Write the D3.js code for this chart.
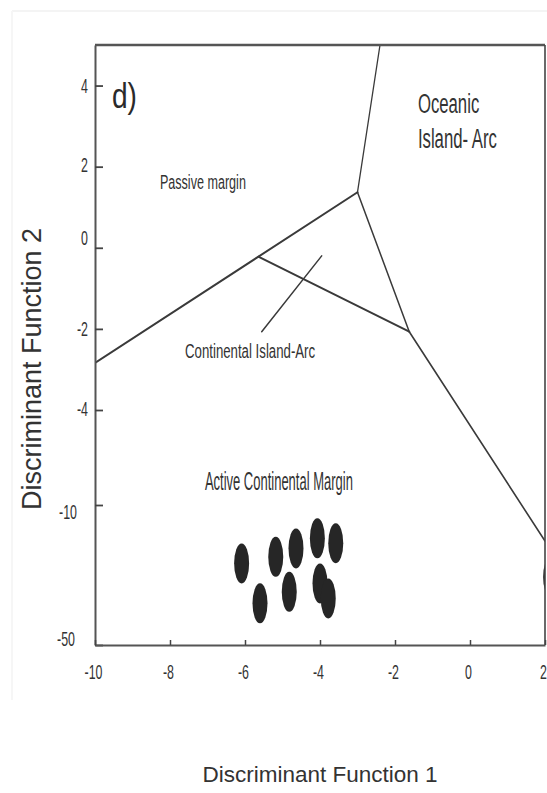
<!DOCTYPE html>
<html>
<head>
<meta charset="utf-8">
<script src="https://cdn.jsdelivr.net/npm/d3@7"></script>
<style>
  html, body { margin: 0; padding: 0; background: #fff; }
  svg { display: block; font-family: "Liberation Sans", Arial, sans-serif; }
</style>
</head>
<body>
<svg id="chart" width="547" height="793"></svg>
<script>
// ---------------- data ----------------
const xTicks = [-10, -8, -6, -4, -2, 0, 2];
const yTicks = [4, 2, 0, -2, -4, -10, -50];
const xDomain = [-10, 2];
const yBreaks = [-50, -10, -4, 5];          // piecewise (broken) y axis

// sample scores: Discriminant Function 1 / 2
const sampleDF1 = [-6.09, -5.60, -5.18, -4.82, -4.64, -4.07, -3.58, -4.00, -3.78, 2.15];
const sampleDF2 = [-26.7, -38.1, -24.8, -34.8, -22.4, -19.5, -20.9, -32.4, -36.7, -30.6];

// field boundaries (DF1, DF2 pairs)
const boundaryNames = ["passiveLower", "oceanicLeft", "upperRight", "lowerRight", "continentalArc", "pointer"];
const boundaryDF1 = [[-10, -3.0], [-3.0, -2.4], [-3.0, -1.62], [-1.62, 2], [-5.645, -1.62], [-3.955, -5.555]];
const boundaryDF2 = [[-2.84, 1.37], [1.37, 5], [1.37, -2.07], [-2.07, -20.3], [-0.22, -2.07], [-0.20, -2.07]];

// field labels
const fieldLabels = ["Passive margin", "Oceanic", "Island- Arc", "Continental Island-Arc", "Active Continental Margin"];
const fieldDF1 = [-8.27, -1.39, -1.39, -7.6, -7.07];
const fieldDF2 = [1.45, 3.32, 2.46, -2.72, -9.05];

const panelLabel = "d)";
const xTitle = "Discriminant Function 1";
const yTitle = "Discriminant Function 2";

// ---------------- layout ----------------
const L = 95, R = 545, T = 45, B = 645;
const svg = d3.select("#chart");

const x = d3.scaleLinear().domain(xDomain).range([L, R]);
const y = d3.scaleLinear().domain(yBreaks).range([B, 505, 410, T]);

// faint scan border
svg.append("line").attr("x1", 12).attr("x2", 547).attr("y1", 11).attr("y2", 11)
  .attr("stroke", "#f4f4f4").attr("stroke-width", 2);
svg.append("line").attr("x1", 12).attr("x2", 12).attr("y1", 11).attr("y2", 700)
  .attr("stroke", "#f6f6f6").attr("stroke-width", 2);

// clip
svg.append("clipPath").attr("id", "plotclip")
  .append("rect").attr("x", L).attr("y", T).attr("width", R - L).attr("height", B - T);

const plot = svg.append("g").attr("clip-path", "url(#plotclip)");

// boundaries
const lineGen = d3.line().x(d => x(d[0])).y(d => y(d[1]));
const widths = { passiveLower: 2, oceanicLeft: 1.3, upperRight: 1.5, lowerRight: 1.6, continentalArc: 2, pointer: 1.5 };
boundaryNames.forEach((name, i) => {
  const pts = boundaryDF1[i].map((v, j) => [v, boundaryDF2[i][j]]);
  plot.append("path").attr("d", lineGen(pts))
    .attr("fill", "none").attr("stroke", "#3a3a3a")
    .attr("stroke-width", widths[name]).attr("stroke-linecap", "round");
});

// samples
plot.selectAll("ellipse.s").data(sampleDF1.map((v, i) => [v, sampleDF2[i]]))
  .enter().append("ellipse").attr("class", "s")
  .attr("cx", d => x(d[0])).attr("cy", d => y(d[1]))
  .attr("rx", 7.5).attr("ry", 20)
  .attr("fill", "#262626");

// frame: top & right
svg.append("line").attr("x1", L).attr("x2", R).attr("y1", T).attr("y2", T)
  .attr("stroke", "#555").attr("stroke-width", 2.5);
svg.append("line").attr("x1", R).attr("x2", R).attr("y1", T).attr("y2", B)
  .attr("stroke", "#444").attr("stroke-width", 1.6);

// axes
const fmt = d => String(d);
const yAxis = d3.axisLeft(y).tickValues(yTicks).tickSizeInner(-8).tickSizeOuter(0).tickFormat(fmt);
const xAxis = d3.axisBottom(x).tickValues(xTicks).tickSizeInner(-5).tickSizeOuter(0).tickFormat(fmt);

const yOff = { "4": [-7, 0], "2": [-7, -2], "0": [-7, -10], "-2": [-7, 0], "-4": [-7, -2], "-10": [-18, 6], "-50": [-20, -7] };
const gy = svg.append("g").attr("transform", `translate(${L},0)`).call(yAxis);
gy.attr("font-family", null).attr("font-size", null);
gy.select(".domain").attr("stroke", "#555").attr("stroke-width", 2);
gy.selectAll(".tick line").attr("stroke", "#444").attr("stroke-width", 1.8);
gy.selectAll(".tick text")
  .attr("x", 0).attr("dy", "0.35em")
  .attr("text-anchor", "end")
  .attr("fill", "#333")
  .style("font-family", "'Liberation Sans', Arial, sans-serif")
  .style("font-size", "20px")
  .attr("transform", d => { const o = yOff[String(d)] || [-7, 0]; return `translate(${o[0]},${o[1]}) scale(0.62,1)`; });

const gx = svg.append("g").attr("transform", `translate(0,${B})`).call(xAxis);
gx.attr("font-family", null).attr("font-size", null);
gx.select(".domain").attr("stroke", "#555").attr("stroke-width", 2);
gx.selectAll(".tick line").attr("stroke", "#444").attr("stroke-width", 1.5);
gx.selectAll(".tick text")
  .attr("y", 0).attr("dy", 0)
  .attr("text-anchor", "middle")
  .attr("fill", "#333")
  .style("font-family", "'Liberation Sans', Arial, sans-serif")
  .style("font-size", "20px")
  .attr("transform", `translate(-2,34) scale(0.62,1)`);

// field labels (narrow, tall lettering)
const labelStyle = [
  { size: 21, sx: 0.60 },
  { size: 27, sx: 0.62 },
  { size: 27, sx: 0.62 },
  { size: 21, sx: 0.63 },
  { size: 25, sx: 0.52 }
];
fieldLabels.forEach((t, i) => {
  svg.append("text")
    .attr("transform", `translate(${x(fieldDF1[i])},${y(fieldDF2[i])}) scale(${labelStyle[i].sx},1)`)
    .attr("fill", "#333")
    .style("font-size", labelStyle[i].size + "px")
    .text(t);
});

// panel label
svg.append("text")
  .attr("transform", `translate(112,108) scale(0.78,1)`)
  .attr("fill", "#2a2a2a")
  .style("font-size", "36px")
  .text(panelLabel);

// axis titles
svg.append("text")
  .attr("x", 320).attr("y", 782)
  .attr("text-anchor", "middle")
  .attr("fill", "#333")
  .style("font-size", "22.5px")
  .text(xTitle);

svg.append("text")
  .attr("transform", "translate(41,369) rotate(-90)")
  .attr("text-anchor", "middle")
  .attr("fill", "#333")
  .style("font-size", "27px")
  .text(yTitle);
</script>
</body>
</html>
